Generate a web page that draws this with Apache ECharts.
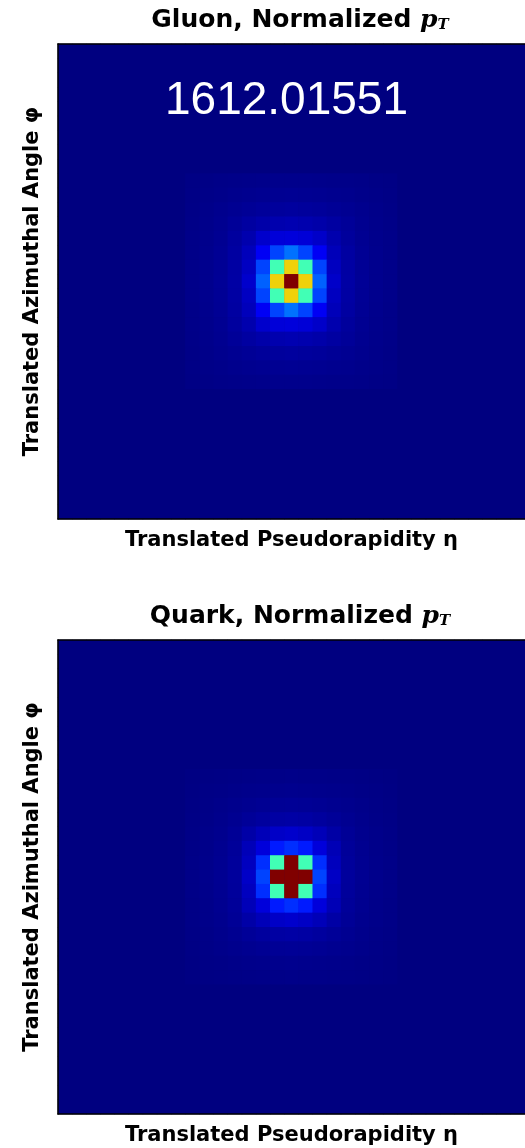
<!DOCTYPE html>
<html>
<head>
<meta charset="utf-8">
<script src="https://cdn.jsdelivr.net/npm/echarts@6/dist/echarts.min.js"></script>
<style>
  html, body { margin: 0; padding: 0; background: #fff; }
  #chart { width: 525px; height: 1148px; }
</style>
</head>
<body>
<div id="chart"></div>
<script>
// 33x33 jet images, only the central 15x15 patch (rows/cols 9..23) is non-zero
const gridSize = 33;
const patchStart = 9;

const gluonPatch = [
  [0.005, 0.006, 0.008, 0.009, 0.010, 0.011, 0.012, 0.012, 0.012, 0.011, 0.010, 0.009, 0.008, 0.006, 0.005],
  [0.006, 0.008, 0.010, 0.013, 0.015, 0.017, 0.018, 0.019, 0.018, 0.017, 0.015, 0.013, 0.010, 0.008, 0.006],
  [0.007, 0.010, 0.014, 0.018, 0.022, 0.026, 0.028, 0.030, 0.028, 0.026, 0.022, 0.018, 0.014, 0.010, 0.007],
  [0.008, 0.011, 0.016, 0.024, 0.032, 0.040, 0.045, 0.048, 0.045, 0.040, 0.032, 0.024, 0.016, 0.011, 0.008],
  [0.009, 0.012, 0.018, 0.030, 0.045, 0.075, 0.088, 0.090, 0.086, 0.072, 0.045, 0.028, 0.018, 0.012, 0.009],
  [0.009, 0.013, 0.020, 0.032, 0.058, 0.115, 0.190, 0.235, 0.190, 0.115, 0.056, 0.032, 0.020, 0.013, 0.009],
  [0.010, 0.014, 0.021, 0.034, 0.065, 0.190, 0.430, 0.680, 0.430, 0.190, 0.063, 0.034, 0.021, 0.014, 0.010],
  [0.010, 0.014, 0.022, 0.035, 0.075, 0.220, 0.680, 1.000, 0.680, 0.220, 0.072, 0.035, 0.022, 0.014, 0.010],
  [0.010, 0.014, 0.021, 0.034, 0.065, 0.190, 0.430, 0.680, 0.430, 0.190, 0.063, 0.034, 0.021, 0.014, 0.010],
  [0.009, 0.013, 0.020, 0.032, 0.058, 0.115, 0.190, 0.235, 0.190, 0.115, 0.056, 0.032, 0.020, 0.013, 0.009],
  [0.009, 0.012, 0.018, 0.030, 0.045, 0.075, 0.088, 0.090, 0.086, 0.072, 0.045, 0.028, 0.018, 0.012, 0.009],
  [0.008, 0.011, 0.016, 0.024, 0.032, 0.040, 0.045, 0.048, 0.045, 0.040, 0.032, 0.024, 0.016, 0.011, 0.008],
  [0.007, 0.010, 0.014, 0.018, 0.022, 0.026, 0.028, 0.030, 0.028, 0.026, 0.022, 0.018, 0.014, 0.010, 0.007],
  [0.006, 0.008, 0.010, 0.013, 0.015, 0.017, 0.018, 0.019, 0.018, 0.017, 0.015, 0.013, 0.010, 0.008, 0.006],
  [0.005, 0.006, 0.008, 0.009, 0.010, 0.011, 0.012, 0.012, 0.012, 0.011, 0.010, 0.009, 0.008, 0.006, 0.005]
];

const quarkPatch = [
  [0.003, 0.004, 0.005, 0.006, 0.007, 0.008, 0.008, 0.009, 0.008, 0.008, 0.007, 0.006, 0.005, 0.004, 0.003],
  [0.004, 0.006, 0.007, 0.009, 0.011, 0.012, 0.013, 0.014, 0.013, 0.012, 0.011, 0.009, 0.007, 0.006, 0.004],
  [0.005, 0.007, 0.010, 0.013, 0.016, 0.019, 0.021, 0.022, 0.021, 0.019, 0.016, 0.013, 0.010, 0.007, 0.005],
  [0.006, 0.008, 0.012, 0.017, 0.024, 0.030, 0.034, 0.036, 0.034, 0.030, 0.024, 0.017, 0.012, 0.008, 0.006],
  [0.007, 0.010, 0.014, 0.022, 0.038, 0.055, 0.070, 0.075, 0.068, 0.055, 0.036, 0.022, 0.014, 0.010, 0.007],
  [0.007, 0.010, 0.016, 0.025, 0.055, 0.090, 0.150, 0.170, 0.150, 0.090, 0.053, 0.025, 0.016, 0.010, 0.007],
  [0.008, 0.011, 0.017, 0.027, 0.062, 0.170, 0.430, 1.000, 0.430, 0.170, 0.060, 0.027, 0.017, 0.011, 0.008],
  [0.008, 0.012, 0.018, 0.028, 0.070, 0.190, 1.000, 1.000, 1.000, 0.190, 0.068, 0.028, 0.018, 0.012, 0.008],
  [0.008, 0.011, 0.017, 0.027, 0.062, 0.170, 0.430, 1.000, 0.430, 0.170, 0.060, 0.027, 0.017, 0.011, 0.008],
  [0.007, 0.010, 0.016, 0.025, 0.055, 0.090, 0.150, 0.170, 0.150, 0.090, 0.053, 0.025, 0.016, 0.010, 0.007],
  [0.007, 0.010, 0.014, 0.022, 0.038, 0.055, 0.070, 0.075, 0.068, 0.055, 0.036, 0.022, 0.014, 0.010, 0.007],
  [0.006, 0.008, 0.012, 0.017, 0.024, 0.030, 0.034, 0.036, 0.034, 0.030, 0.024, 0.017, 0.012, 0.008, 0.006],
  [0.005, 0.007, 0.010, 0.013, 0.016, 0.019, 0.021, 0.022, 0.021, 0.019, 0.016, 0.013, 0.010, 0.007, 0.005],
  [0.004, 0.006, 0.007, 0.009, 0.011, 0.012, 0.013, 0.014, 0.013, 0.012, 0.011, 0.009, 0.007, 0.006, 0.004],
  [0.003, 0.004, 0.005, 0.006, 0.007, 0.008, 0.008, 0.009, 0.008, 0.008, 0.007, 0.006, 0.005, 0.004, 0.003]
];

// matplotlib "jet" sampled at 0, 0.125, ... 1
const jetColors = ['#000080', '#0000ff', '#0080ff', '#14ffe2', '#7bff7b', '#e2ff14', '#ff9700', '#ff2100', '#800000'];

const titles = ['Gluon, Normalized ', 'Quark, Normalized '];
const xName = 'Translated Pseudorapidity \u03b7';
const yName = 'Translated Azimuthal Angle \u03c6';
const stamp = '1612.01551';

const pixelIdx = [];
for (let i = 0; i < gridSize; i++) pixelIdx.push(i);

function buildCells(patch) {
  const cells = [];
  for (let r = 0; r < gridSize; r++) {
    for (let c = 0; c < gridSize; c++) {
      const pr = r - patchStart, pc = c - patchStart;
      let v = 0;
      if (pr >= 0 && pr < patch.length && pc >= 0 && pc < patch[0].length) v = patch[pr][pc];
      cells.push([c, r, v]);
    }
  }
  return cells;
}

const labelFont = '"DejaVu Sans", sans-serif';
const frameLine = { show: true, lineStyle: { color: '#000', width: 1.5 } };

function xAxisFor(gi, pos, withName) {
  return {
    gridIndex: gi, type: 'category', data: pixelIdx, position: pos, z: 5,
    axisLine: frameLine, axisTick: { show: false }, axisLabel: { show: false },
    splitLine: { show: false },
    name: withName ? xName : '', nameLocation: 'middle', nameGap: 11,
    nameTextStyle: { fontFamily: labelFont, fontWeight: 'bold', fontSize: 21, color: '#000', verticalAlign: 'top' }
  };
}

function yAxisFor(gi) {
  return {
    gridIndex: gi, type: 'category', data: pixelIdx, inverse: true, z: 5,
    axisLine: frameLine, axisTick: { show: false }, axisLabel: { show: false },
    splitLine: { show: false },
    name: yName, nameLocation: 'middle', nameRotate: 90, nameGap: 15,
    nameTextStyle: { fontFamily: labelFont, fontWeight: 'bold', fontSize: 21, color: '#000' }
  };
}

function titleFor(i, top) {
  return {
    text: titles[i] + '{p|p}{t|T}',
    left: 295, top: top, textAlign: 'center',
    textStyle: {
      fontFamily: labelFont, fontWeight: 'bold', fontSize: 25, color: '#000',
      rich: {
        p: { fontFamily: '"DejaVu Serif", serif', fontStyle: 'italic', fontSize: 25, color: '#000' },
        t: { fontFamily: '"DejaVu Serif", serif', fontStyle: 'italic', fontSize: 15, color: '#000', padding: [9, 0, 0, 0] }
      }
    }
  };
}

const chart = echarts.init(document.getElementById('chart'), null, { renderer: 'canvas' });

chart.setOption({
  backgroundColor: '#fff',
  animation: false,
  title: [titleFor(0, 3), titleFor(1, 599)],
  grid: [
    { left: 58, top: 44, width: 475, height: 475, show: true, backgroundColor: '#000080', borderWidth: 0 },
    { left: 58, top: 640, width: 475, height: 474, show: true, backgroundColor: '#000080', borderWidth: 0 }
  ],
  xAxis: [xAxisFor(0, 'bottom', true), xAxisFor(0, 'top', false), xAxisFor(1, 'bottom', true), xAxisFor(1, 'top', false)],
  yAxis: [yAxisFor(0), yAxisFor(1)],
  visualMap: {
    type: 'continuous', show: false, min: 0, max: 1, seriesIndex: [0, 1],
    inRange: { color: jetColors }
  },
  graphic: [{
    type: 'text', left: 165, top: 78, z: 10,
    style: { text: stamp, fill: '#fff', font: '46px "Liberation Sans", Arial, sans-serif' }
  }],
  series: [
    { type: 'heatmap', xAxisIndex: 0, yAxisIndex: 0, data: buildCells(gluonPatch), emphasis: { disabled: true } },
    { type: 'heatmap', xAxisIndex: 2, yAxisIndex: 1, data: buildCells(quarkPatch), emphasis: { disabled: true } }
  ]
});
</script>
</body>
</html>
